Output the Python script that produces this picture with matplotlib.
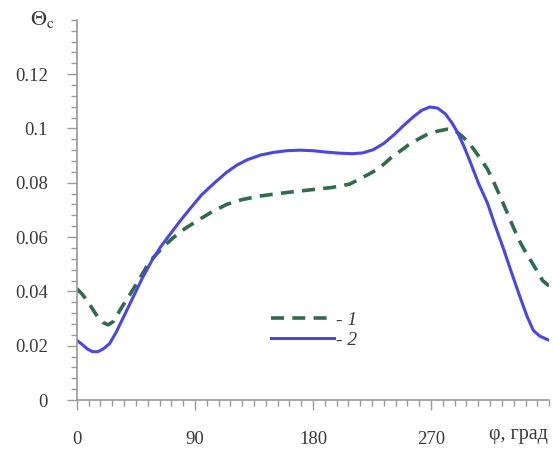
import numpy as np
import matplotlib.pyplot as plt
from matplotlib.ticker import MultipleLocator

# curve 1 (dashed): angle, degrees / value
phi1 = [0, 4, 8, 12, 16, 20, 24, 28, 34, 40, 47, 53, 58, 65, 73, 82, 91, 102, 114,
        125, 138, 150, 165, 180, 195, 208, 216, 225, 232, 239, 246, 253, 260, 267,
        275, 282, 288, 294, 300, 306, 313, 318, 322, 328, 333, 338, 343, 349, 355, 360]
theta1 = [0.041, 0.039, 0.0365, 0.0335, 0.0305, 0.0285, 0.0277, 0.029, 0.034, 0.0385,
          0.044, 0.049, 0.0523, 0.056, 0.0596, 0.063, 0.0658, 0.069, 0.072, 0.0737,
          0.075, 0.0758, 0.0767, 0.0775, 0.0783, 0.0795, 0.0815, 0.0838, 0.086, 0.089,
          0.0915, 0.094, 0.096, 0.0978, 0.099, 0.0997, 0.0993, 0.097, 0.094, 0.090,
          0.085, 0.080, 0.0757, 0.069, 0.0633, 0.058, 0.0537, 0.049, 0.044, 0.042]

# curve 2 (solid)
phi2 = [0, 4, 8, 12, 16, 20, 25, 30, 35, 40, 45, 50, 57, 64, 71, 78, 86, 95, 105,
        114, 122, 130, 140, 150, 160, 170, 180, 190, 200, 210, 218, 226, 234, 242,
        250, 257, 263, 269, 275, 281, 286, 290, 295, 300, 306, 313, 319, 325, 332,
        338, 343, 348, 353, 360]
theta2 = [0.022, 0.0205, 0.0188, 0.0178, 0.0178, 0.0188, 0.0208, 0.025, 0.030, 0.035,
          0.040, 0.045, 0.0512, 0.0565, 0.061, 0.0655, 0.0703, 0.0755, 0.080, 0.0838,
          0.0865, 0.0885, 0.0902, 0.0912, 0.0918, 0.092, 0.0918, 0.0913, 0.0909,
          0.0907, 0.091, 0.0922, 0.0945, 0.0978, 0.1015, 0.1045, 0.1067, 0.1079,
          0.1075, 0.1053, 0.102, 0.0987, 0.0935, 0.0875, 0.080, 0.0725, 0.064, 0.056,
          0.046, 0.0377, 0.031, 0.0256, 0.0235, 0.022]

xticks = [0, 90, 180, 270]
yticks = [0, 0.02, 0.04, 0.06, 0.08, 0.1, 0.12]
ytick_labels = ["0", "0.02", "0.04", "0.06", "0.08", "0.1", "0.12"]

plt.rcParams["font.family"] = ["Liberation Serif", "DejaVu Serif"]
plt.rcParams["mathtext.fontset"] = "stix"
grey = "#9a9a9a"
txt = "#3a3a3a"

fig = plt.figure(figsize=(5.53, 4.5), dpi=100)
ax = fig.add_axes([0.139, 0.111, 0.854, 0.845])

ax.plot(phi1, theta1, color="#2f6b4c", lw=2.6, ls=(0, (3.6, 2.3)), label="- 1")
ax.plot(phi2, theta2, color="#4a46e6", lw=2.2, label="- 2")

ax.set_xlim(0, 360)
ax.set_ylim(0, 0.14)
ax.set_xticks(xticks)
ax.set_xticklabels([str(t) for t in xticks])
ax.set_yticks(yticks)
ax.set_yticklabels(ytick_labels)
ax.xaxis.set_minor_locator(MultipleLocator(9))
ax.yaxis.set_minor_locator(MultipleLocator(0.004))

for side in ["top", "right"]:
    ax.spines[side].set_visible(False)
for side in ["left", "bottom"]:
    ax.spines[side].set_color(grey)
    ax.spines[side].set_linewidth(1.2)

ax.tick_params(which="major", length=7, width=1, color=grey, labelsize=13.5,
               labelcolor=txt)
ax.tick_params(axis="y", which="major", pad=14)
ax.tick_params(axis="x", which="major", pad=15)
ax.tick_params(which="minor", length=4, width=1, color=grey)

ax.text(-0.10, 1.0, r"$\Theta_\mathrm{c}$", transform=ax.transAxes, fontsize=16,
        color=txt, ha="left", va="center")
ax.text(0.998, -0.065, "φ, град", transform=ax.transAxes, fontsize=14.5,
        color=txt, ha="right", va="top")

leg = ax.legend(loc="upper left", bbox_to_anchor=(0.375, 0.28), frameon=False,
                handlelength=3.2, handletextpad=0.1, labelspacing=0.15,
                prop={"size": 14, "style": "italic"})
for t in leg.get_texts():
    t.set_color(txt)

fig.savefig("out.png", dpi=100)
